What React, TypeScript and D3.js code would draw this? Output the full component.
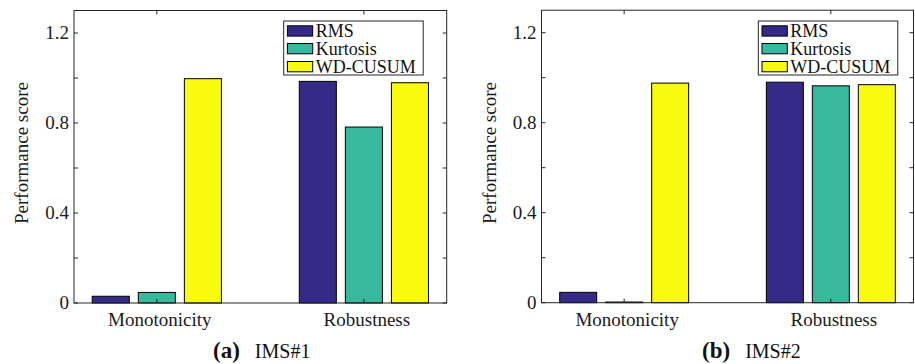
import React, { useEffect, useRef } from 'react';
import * as d3 from 'd3';

const categories = ['Monotonicity', 'Robustness'];
const seriesNames = ['RMS', 'Kurtosis', 'WD-CUSUM'];
const seriesColors = ['#352a87', '#38b99e', '#f9fb0e'];

// values per series: [Monotonicity, Robustness]
const ims1Rms = [0.03, 0.985];
const ims1Kurtosis = [0.047, 0.782];
const ims1Cusum = [0.997, 0.979];

const ims2Rms = [0.046, 0.98];
const ims2Kurtosis = [0.003, 0.964];
const ims2Cusum = [0.976, 0.969];

const yTicks = [0, 0.2, 0.4, 0.6, 0.8, 1.0, 1.2];
const yTickLabels = ['0', '', '0.4', '', '0.8', '', '1.2'];

const panels = [
  {
    tag: '(a)', name: 'IMS#1', series: [ims1Rms, ims1Kurtosis, ims1Cusum],
    left: 74, right: 446.7, top: 11, bottom: 303, captionX: 213, legendX: 283.7,
  },
  {
    tag: '(b)', name: 'IMS#2', series: [ims2Rms, ims2Kurtosis, ims2Cusum],
    left: 541.5, right: 913.5, top: 11, bottom: 302.7, captionX: 702, legendX: 758.3,
  },
];

const FONT = '"Liberation Serif", "Times New Roman", serif';
const AXIS = '#262626';

const App = () => {
  const svgRef = useRef<SVGSVGElement>(null);

  useEffect(() => {
    const svg = d3.select(svgRef.current);
    svg.selectAll('*').remove();

    panels.forEach(p => {
      const g = svg.append('g');

      const x = d3.scaleLinear().domain([0.6, 2.4]).range([p.left, p.right]);
      const y = d3.scaleLinear().domain([0, 1.3]).range([p.bottom, p.bottom - 292.5]);
      const unit = x(1) - x(0);
      const offset = 0.2225;
      const barW = 0.179;

      // bars
      p.series.forEach((vals, si) => {
        g.selectAll(`.bar-${si}`)
          .data(vals)
          .enter()
          .append('rect')
          .attr('x', (d, i) => x(i + 1 + (si - 1) * offset - barW / 2))
          .attr('y', d => y(d))
          .attr('width', barW * unit)
          .attr('height', d => Math.max(0.5, y(0) - y(d)))
          .attr('fill', seriesColors[si])
          .attr('stroke', '#000')
          .attr('stroke-width', 1);
      });

      // box
      g.append('rect')
        .attr('x', p.left)
        .attr('y', y(1.3))
        .attr('width', p.right - p.left)
        .attr('height', y(0) - y(1.3))
        .attr('fill', 'none')
        .attr('stroke', AXIS)
        .attr('stroke-width', 1);

      // y ticks (inward on both sides)
      yTicks.forEach((t, i) => {
        g.append('line')
          .attr('x1', p.left).attr('x2', p.left + 4)
          .attr('y1', y(t)).attr('y2', y(t))
          .attr('stroke', AXIS);
        g.append('line')
          .attr('x1', p.right).attr('x2', p.right - 4)
          .attr('y1', y(t)).attr('y2', y(t))
          .attr('stroke', AXIS);
        if (yTickLabels[i]) {
          g.append('text')
            .attr('x', p.left - 5)
            .attr('y', y(t))
            .attr('dy', '0.33em')
            .attr('text-anchor', 'end')
            .style('font-family', FONT)
            .style('font-size', '19px')
            .style('fill', '#1a1a1a')
            .text(yTickLabels[i]);
        }
      });

      // x ticks and category labels
      categories.forEach((c, i) => {
        const cx = x(i + 1);
        g.append('line')
          .attr('x1', cx).attr('x2', cx)
          .attr('y1', y(0)).attr('y2', y(0) - 4)
          .attr('stroke', AXIS);
        g.append('line')
          .attr('x1', cx).attr('x2', cx)
          .attr('y1', y(1.3)).attr('y2', y(1.3) + 4)
          .attr('stroke', AXIS);
        g.append('text')
          .attr('x', cx + 3)
          .attr('y', 326)
          .attr('text-anchor', 'middle')
          .style('font-family', FONT)
          .style('font-size', '19px')
          .style('fill', '#1a1a1a')
          .text(c);
      });

      // y axis label
      g.append('text')
        .attr('transform', `translate(${p.left - 46},${153}) rotate(-90)`)
        .attr('text-anchor', 'middle')
        .style('font-family', FONT)
        .style('font-size', '19px')
        .style('fill', '#1a1a1a')
        .text('Performance score');

      // legend
      const legend = g.append('g').attr('transform', `translate(${p.legendX},21)`);
      legend.append('rect')
        .attr('width', 139.5)
        .attr('height', 54)
        .attr('fill', '#fff')
        .attr('stroke', AXIS)
        .attr('stroke-width', 1);
      const rowY = [9.8, 27.5, 45.5];
      seriesNames.forEach((s, i) => {
        legend.append('rect')
          .attr('x', 3.7)
          .attr('y', rowY[i] - 5)
          .attr('width', 25.3)
          .attr('height', 10.3)
          .attr('fill', seriesColors[i])
          .attr('stroke', '#000')
          .attr('stroke-width', 1);
        legend.append('text')
          .attr('x', 32)
          .attr('y', rowY[i])
          .attr('dy', '0.35em')
          .style('font-family', FONT)
          .style('font-size', '18px')
          .style('fill', '#111')
          .text(s);
      });

      // caption
      const cap = g.append('text')
        .attr('x', p.captionX)
        .attr('y', 358)
        .style('font-family', FONT)
        .style('fill', '#111');
      cap.append('tspan')
        .style('font-weight', 'bold')
        .style('font-size', '23px')
        .text(p.tag);
      cap.append('tspan')
        .attr('dx', 15)
        .style('font-size', '20px')
        .text(p.name);
    });
  }, []);

  return (
    <svg
      ref={svgRef}
      width={915}
      height={364}
      style={{ position: 'absolute', left: 0, top: 0, background: '#fff' }}
    />
  );
};

export default App;
